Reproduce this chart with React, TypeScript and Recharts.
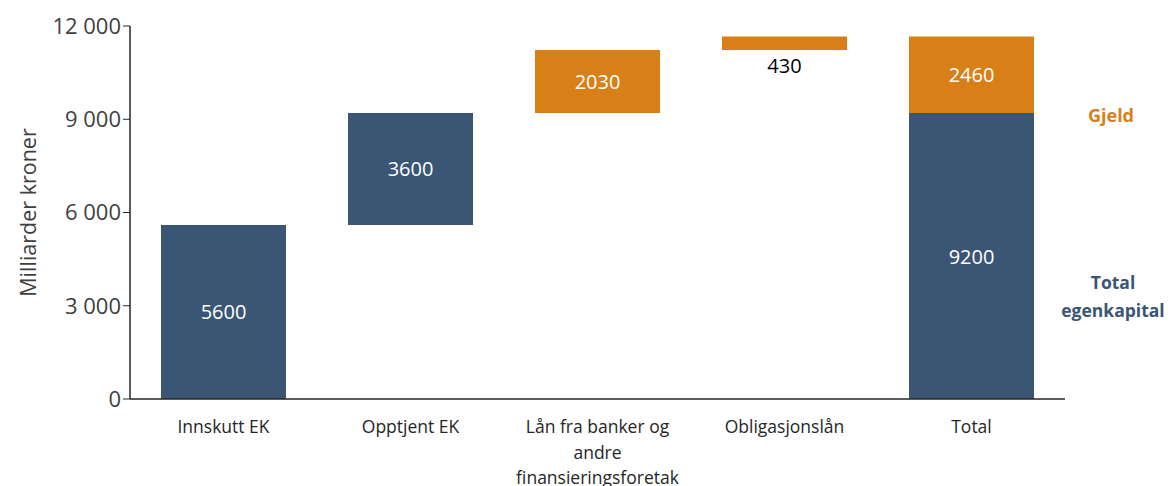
import { Bar, BarChart, LabelList, Text, XAxis, YAxis } from 'recharts';

const categories = [
  'Innskutt EK',
  'Opptjent EK',
  'Lån fra banker og andre finansieringsforetak',
  'Obligasjonslån',
  'Total',
];
const baseValues = [0, 5600, 9200, 11230, 0];
const egenkapitalValues = [5600, 3600, 0, 0, 9200];
const gjeldValues = [0, 0, 2030, 430, 2460];
const yTicks = [0, 3000, 6000, 9000, 12000];

const BLUE = '#3a5674';
const ORANGE = '#d87f17';
const FONT = '"Open Sans", "Noto Sans", sans-serif';

const data = categories.map((name, i) => ({
  name,
  base: baseValues[i],
  egenkapital: egenkapitalValues[i],
  gjeld: gjeldValues[i],
}));

const formatTick = (v: number) => String(v).replace(/\B(?=(\d{3})+(?!\d))/g, ' ');

const CategoryTick = (props: any) => {
  const { x, y, payload } = props;
  return (
    <Text
      x={x}
      y={y + 26}
      width={162}
      textAnchor="middle"
      verticalAnchor="middle"
      lineHeight={25.5}
      style={{ fontSize: 17.5, fontFamily: FONT }}
      fill="#262626"
    >
      {payload.value}
    </Text>
  );
};

const YTitle = (props: any) => {
  const { viewBox } = props;
  const cx = viewBox.x + 27;
  const cy = viewBox.y + viewBox.height / 2;
  return (
    <text
      x={cx}
      y={cy}
      transform={`rotate(-90 ${cx} ${cy})`}
      textAnchor="middle"
      dominantBaseline="central"
      fontSize={21.5}
      fontFamily={FONT}
      fill="#404040"
    >
      Milliarder kroner
    </text>
  );
};

const BarValue = (props: any) => {
  const { x, y, width, height, value } = props;
  if (!value) return null;
  const small = height < 30;
  return (
    <text
      x={x + width / 2}
      y={small ? y + height + 16 : y + height / 2}
      textAnchor="middle"
      dominantBaseline="central"
      fontSize={20}
      fontFamily={FONT}
      fill={small ? '#000000' : '#ffffff'}
    >
      {value}
    </text>
  );
};

export default function App() {
  return (
    <div style={{ position: 'absolute', left: 0, top: 0, width: 1171, height: 486, background: '#fff' }}>
      <BarChart
        width={1171}
        height={486}
        data={data}
        margin={{ top: 26, right: 106, bottom: 0, left: 0 }}
      >
        <XAxis
          dataKey="name"
          height={87}
          tickLine={false}
          axisLine={{ stroke: '#262626', strokeWidth: 1.5 }}
          tick={<CategoryTick />}
          interval={0}
        />
        <YAxis
          width={130}
          domain={[0, 12000]}
          ticks={yTicks}
          tickFormatter={formatTick}
          tickSize={7}
          tickLine={{ stroke: '#262626' }}
          axisLine={{ stroke: '#262626', strokeWidth: 1.5 }}
          tick={{ fontSize: 22, fontFamily: FONT, fill: '#404040' }}
          label={<YTitle />}
        />
        <Bar dataKey="base" stackId="a" fill="transparent" barSize={125} isAnimationActive={false} />
        <Bar dataKey="egenkapital" stackId="a" fill={BLUE} barSize={125} isAnimationActive={false}>
          <LabelList dataKey="egenkapital" content={<BarValue />} />
        </Bar>
        <Bar dataKey="gjeld" stackId="a" fill={ORANGE} barSize={125} isAnimationActive={false}>
          <LabelList dataKey="gjeld" content={<BarValue />} />
        </Bar>
      </BarChart>
      <div
        style={{
          position: 'absolute',
          left: 1066,
          width: 90,
          top: 101,
          textAlign: 'center',
          fontFamily: FONT,
          fontWeight: 700,
          fontSize: 18,
          lineHeight: '28px',
          color: ORANGE,
        }}
      >
        Gjeld
      </div>
      <div
        style={{
          position: 'absolute',
          left: 1053,
          width: 120,
          top: 268,
          textAlign: 'center',
          fontFamily: FONT,
          fontWeight: 700,
          fontSize: 17.5,
          lineHeight: '28px',
          color: BLUE,
        }}
      >
        Total
        <br />
        egenkapital
      </div>
    </div>
  );
}
